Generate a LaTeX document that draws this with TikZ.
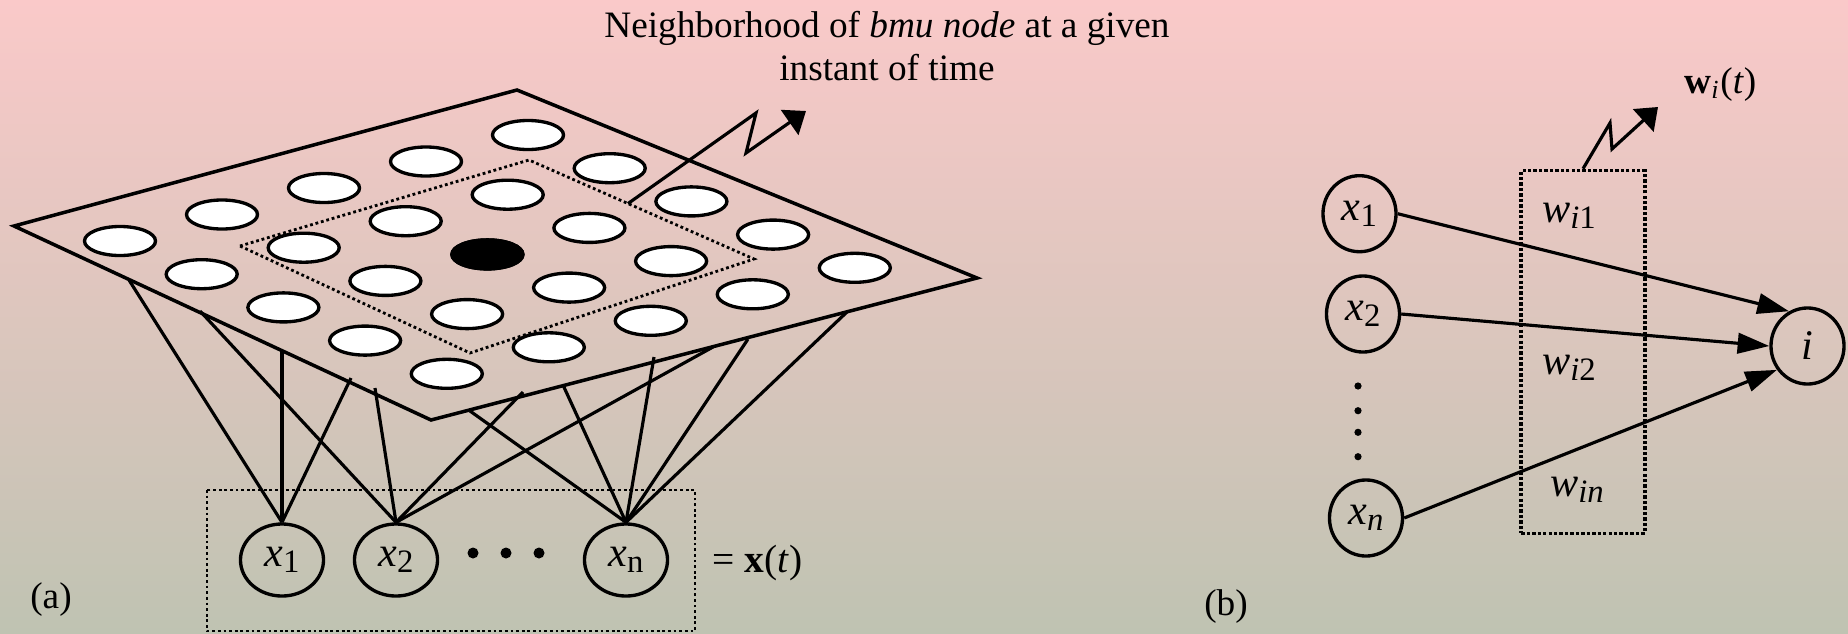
\documentclass[tikz,border=0pt]{standalone}
\usepackage{fontspec}
\setmainfont{Liberation Serif}
\usepackage{xcolor}
\usepackage{tikz}
\usetikzlibrary{calc,arrows.meta,shapes.geometric}
\usetikzlibrary{positioning}

\definecolor{bgtop}{RGB}{250,201,201}
\definecolor{bgbot}{RGB}{191,195,178}
% lowered subscript, a bit larger than \textsubscript
\newcommand{\lsub}[1]{\raisebox{-0.32ex}{\fontsize{9.3}{10}\selectfont #1}}

\begin{document}
\begin{tikzpicture}[x=0.01cm, y=-0.01cm, >=Stealth,
  link/.style={line width=0.9pt},
  plane/.style={line width=1pt, line join=miter},
  cell/.style={line width=0.95pt, fill=white},
  nbhd/.style={line width=0.8pt, dash pattern=on 0.8pt off 0.8pt},
  wframe/.style={draw, line width=1.05pt, dash pattern=on 0.95pt off 0.6pt, inner sep=0pt},
  inunit/.style={ellipse, draw, line width=0.95pt, inner sep=0pt, minimum width=0.83cm, minimum height=0.72cm, font=\fontsize{12}{14}\selectfont},
  wunit/.style={ellipse, draw, line width=0.95pt, inner sep=0pt, minimum width=0.73cm, minimum height=0.76cm, font=\fontsize{12}{14}\selectfont},
  lbl/.style={font=\fontsize{10.6}{12.3}\selectfont},
  wlbl/.style={font=\fontsize{12}{14}\selectfont},
  bigtip/.style={-{Triangle[length=9pt,width=5.8pt]}},
  zigtip/.style={-{Triangle[length=5.7pt,width=8.6pt]}}]

% ---------------- 1. BACKGROUND ----------------
\shade[top color=bgtop, bottom color=bgbot] (0,0) rectangle (1848,633);
\useasboundingbox (0,0) rectangle (1848,633);

% ---------------- 2. (a) MAP PLANE ----------------
\coordinate (pL) at (14,226);
\coordinate (pT) at (517,90);
\coordinate (pR) at (977,278);
\coordinate (pB) at (431,420);
\draw[plane] (pL) -- (pT) -- (pR) -- (pB) -- cycle;

% Neighborhood of the bmu (dotted)
\coordinate (nL) at (240,246);
\coordinate (nT) at (529,160);
\coordinate (nR) at (754,259);
\coordinate (nB) at (470,353);
\draw[nbhd] (nL) -- (nT) -- (nR) -- (nB) -- cycle;

% 5x5 grid of map units
\foreach \i in {0,...,4}{
  \foreach \j in {0,...,4}{
    \draw[cell] ({528-102*\i+81.7*\j},{135+26.5*\i+33.2*\j}) ellipse [x radius=0.355cm, y radius=0.145cm];
  }
}
% bmu node
\filldraw[black, line width=0.95pt] ({528-204+163.4},{135+53+66.4}) ellipse [x radius=0.355cm, y radius=0.145cm];

% ---------------- 3. (a) INPUT LAYER ----------------
\draw[nbhd] (207,490) rectangle (695,631);
\node[inunit] (xa1) at (282,560) {\textit{x}\lsub{1}};
\node[inunit] (xa2) at (396,560) {\textit{x}\lsub{2}};
\node[inunit] (xan) at (626,560) {\textit{x}\lsub{n}};
\foreach \dx in {473,506,539}
  \fill (\dx,553) circle [radius=0.055cm];
\node[font=\fontsize{11.2}{13}\selectfont, anchor=base west] (xvec) at (700,572) {= \textbf{x}(\textit{t})};

% Connections from the plane to the inputs
\coordinate (e1) at (129,280);
\coordinate (e2) at (200,311);
\coordinate (e3) at (282,350);
\coordinate (e4) at (351,378);
\coordinate (e5) at (375,388);
\coordinate (e6) at (470,411);
\coordinate (e7) at (523,392);
\coordinate (e8) at (563,385);
\coordinate (e9) at (654,357);
\coordinate (e10) at (713,347);
\coordinate (e11) at (748,339);
\coordinate (e12) at (848,311);
\foreach \e/\n in {e1/xa1, e3/xa1, e4/xa1, e2/xa2, e5/xa2, e7/xa2, e10/xa2,
                   e6/xan, e8/xan, e9/xan, e11/xan, e12/xan}
  \draw[link] (\e) -- (\n.north);

% ---------------- 4. (a) NEIGHBORHOOD CALLOUT ----------------
\coordinate (za0) at ($(nT)!0.44!(nR)$);
\coordinate (za1) at (756,113);
\coordinate (za2) at (746,153);
\coordinate (za3) at (806,111);
\draw[link, zigtip] (za0) -- (za1) -- (za2) -- (za3);
\node[lbl, align=center] (nbcap) at (887,46) {Neighborhood of \textit{bmu node} at a given\\instant of time};

\node[lbl, anchor=base] (capa) at (51,608) {(a)};

% ---------------- 5. (b) SINGLE UNIT ----------------
\node[wunit] (xb1) at (1359.5,213.7) {\textit{x}\lsub{1}};
\node[wunit] (xb2) at (1363,314) {\textit{x}\lsub{2}};
\node[wunit] (xbn) at (1366,518) {\textit{x}\lsub{\textit{n}}};
\node[wunit] (ni) at (1807.5,346) {\textit{i}};
\foreach \dy in {386,410.7,432.3,456.7}
  \fill (1358,\dy) circle [radius=0.036cm];

% Weight vector frame
\node[wframe, minimum width=1.233cm, minimum height=3.626cm] (wbox) at (1583,352) {};
\node[wlbl] (w1) at (1569,216) {\textit{w}\lsub{\textit{i}1}};
\node[wlbl] (w2) at (1569,368) {\textit{w}\lsub{\textit{i}2}};
\node[wlbl] (wn) at (1577,490) {\textit{w}\lsub{\textit{in}}};

\draw[link, bigtip] (xb1.east) -- (ni.118);
\draw[link, bigtip] (xb2.east) -- (ni.west);
\draw[link, bigtip] (xbn.east) -- (ni.218);

% Callout to w_i(t)
\coordinate (zb1) at (1610,123);
\coordinate (zb2) at (1612,149);
\coordinate (zb3) at (1658,107);
\draw[link, zigtip] (wbox.north) -- (zb1) -- (zb2) -- (zb3);
\node[lbl, anchor=base west] (wvec) at (1672,93) {\textbf{w}\textsubscript{\textit{i}}(\textit{t})};

\node[lbl, anchor=base] (capb) at (1226,615) {(b)};

\end{tikzpicture}
\end{document}
